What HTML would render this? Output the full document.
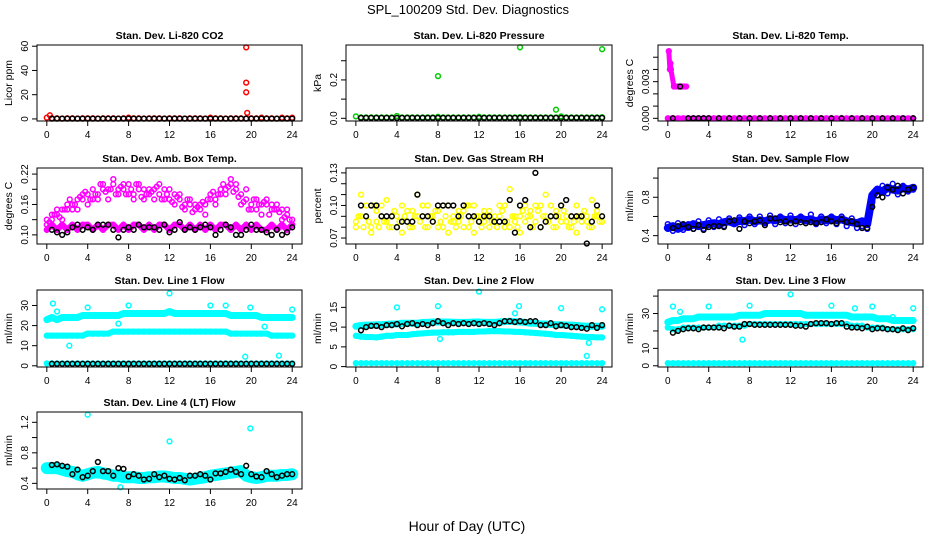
<!DOCTYPE html>
<html><head><meta charset="utf-8"><title>SPL_100209 Std. Dev. Diagnostics</title>
<style>
html,body{margin:0;padding:0;background:#fff;}
svg{display:block;font-family:"Liberation Sans",Arial,sans-serif;}
</style></head>
<body>
<svg id="chart" width="936" height="540" viewBox="0 0 936 540" xmlns="http://www.w3.org/2000/svg">
<rect x="0" y="0" width="936" height="540" fill="#fff"/>
<text x="468" y="14" text-anchor="middle" font-size="13">SPL_100209  Std. Dev. Diagnostics</text>
<text x="467" y="531" text-anchor="middle" font-size="14">Hour of Day (UTC)</text>
</svg>
<script>
// ---- shared categories ----
const hours = [0,0.5,1,1.5,2,2.5,3,3.5,4,4.5,5,5.5,6,6.5,7,7.5,8,8.5,9,9.5,10,10.5,11,11.5,12,12.5,13,13.5,14,14.5,15,15.5,16,16.5,17,17.5,18,18.5,19,19.5,20,20.5,21,21.5,22,22.5,23,23.5,24];
const hoursQ = [0.25,0.75,1.25,1.75,2.25,2.75,3.25,3.75,4.25,4.75,5.25,5.75,6.25,6.75,7.25,7.75,8.25,8.75,9.25,9.75,10.25,10.75,11.25,11.75,12.25,12.75,13.25,13.75,14.25,14.75,15.25,15.75,16.25,16.75,17.25,17.75,18.25,18.75,19.25,19.75,20.25,20.75,21.25,21.75,22.25,22.75,23.25,23.75];
const hoursB = [0.5,1,1.5,2,2.5,3,3.5,4,4.5,5,5.5,6,6.5,7,7.5,8,8.5,9,9.5,10,10.5,11,11.5,12,12.5,13,13.5,14,14.5,15,15.5,16,16.5,17,17.5,18,18.5,19,19.5,20,20.5,21,21.5,22,22.5,23,23.5,24];
const xTicks = [0,4,8,12,16,20,24];

// ---- CO2 ----
const co2Red = [1,0.5,0.5,0.4,0.5,0.5,0.4,0.5,0.5,0.5,0.4,0.5,0.5,0.5,0.4,0.5,1,0.5,0.5,0.4,0.5,0.5,0.5,0.4,0.5,0.5,0.5,0.4,0.5,0.5,0.5,0.4,1,0.5,0.5,0.4,0.5,0.5,0.5,0.4,0.5,0.5,1,0.5,0.5,0.4,1,0.5,1];
const co2OutX = [0.3,19.5,19.5,19.5,19.6];
const co2OutY = [3,59,30,22,5];
const co2Black = [0.3,0.3,0.3,0.3,0.3,0.3,0.3,0.3,0.3,0.3,0.3,0.3,0.3,0.3,0.3,0.3,0.3,0.3,0.3,0.3,0.3,0.3,0.3,0.3,0.3,0.3,0.3,0.3,0.3,0.3,0.3,0.3,0.3,0.3,0.3,0.3,0.3,0.3,0.3,0.3,0.3,0.3,0.3,0.3,0.3,0.3,0.3,0.3];
// ---- Pressure ----
const presGreen = [0.01,0.005,0.005,0.005,0.005,0.005,0.005,0.005,0.012,0.005,0.005,0.005,0.005,0.005,0.005,0.005,0.008,0.005,0.005,0.005,0.005,0.005,0.005,0.005,0.008,0.005,0.005,0.005,0.005,0.005,0.005,0.005,0.006,0.005,0.005,0.005,0.005,0.005,0.005,0.005,0.01,0.005,0.005,0.005,0.005,0.005,0.005,0.005,0.006];
const presOutX = [8,16,19.5,24];
const presOutY = [0.22,0.37,0.045,0.36];
const presBlack = [0.002,0.002,0.002,0.002,0.002,0.002,0.002,0.002,0.002,0.002,0.002,0.002,0.002,0.002,0.002,0.002,0.002,0.002,0.002,0.002,0.002,0.002,0.002,0.002,0.002,0.002,0.002,0.002,0.002,0.002,0.002,0.002,0.002,0.002,0.002,0.002,0.002,0.002,0.002,0.002,0.002,0.002,0.002,0.002,0.002,0.002,0.002,0.002];
// ---- Li-820 Temp ----
const tempMagX = [0.1,0.2,0.25,0.3,0.6,0.8,1.0,1.2,1.4,1.6,1.8];
const tempMagY = [0.0055,0.004,0.0045,0.004,0.0026,0.0026,0.0026,0.0026,0.0026,0.0026,0.0026];
const tempBase = [0,0,0,0,0,0,0,0,0,0,0,0,0,0,0,0,0,0,0,0,0,0,0,0,0,0,0,0,0,0,0,0,0,0,0,0,0,0,0,0,0,0,0,0,0,0,0,0,0];
const tempBlackX = [0.5,1.2,2,2.5,3,3.5,4,5,6,7,8,9,10,11,12,13,14,15,16,17,18,19,20,21,22,23,24];
const tempBlackY = [0,0.0026,0,0,0,0,0,0,0,0,0,0,0,0,0,0,0,0,0,0,0,0,0,0,0,0,0];
// ---- Amb Box Temp ----
const ambUpper = [0.13,0.14,0.14,0.15,0.15,0.16,0.17,0.17,0.18,0.17,0.18,0.19,0.19,0.2,0.19,0.2,0.18,0.18,0.19,0.19,0.18,0.19,0.18,0.19,0.17,0.18,0.17,0.16,0.16,0.16,0.15,0.16,0.17,0.17,0.18,0.19,0.2,0.19,0.18,0.17,0.16,0.15,0.16,0.17,0.16,0.15,0.15,0.14,0.13];
const ambMid = [0.12,0.13,0.15,0.13,0.16,0.15,0.15,0.18,0.16,0.19,0.17,0.2,0.17,0.21,0.18,0.19,0.2,0.17,0.2,0.17,0.19,0.17,0.2,0.17,0.19,0.16,0.18,0.15,0.17,0.15,0.16,0.14,0.18,0.16,0.19,0.18,0.21,0.2,0.16,0.19,0.15,0.17,0.14,0.16,0.15,0.16,0.13,0.15,0.12];
const ambQ = [0.125,0.14,0.135,0.15,0.17,0.16,0.175,0.185,0.17,0.18,0.2,0.185,0.19,0.18,0.195,0.18,0.19,0.2,0.175,0.18,0.185,0.195,0.17,0.18,0.165,0.175,0.155,0.17,0.145,0.155,0.165,0.17,0.185,0.18,0.2,0.195,0.185,0.175,0.165,0.15,0.17,0.16,0.165,0.14,0.15,0.145,0.135,0.13];
const ambLower = [0.11,0.12,0.11,0.12,0.11,0.12,0.11,0.12,0.12,0.11,0.12,0.11,0.12,0.12,0.11,0.12,0.11,0.12,0.12,0.11,0.12,0.11,0.12,0.12,0.11,0.12,0.12,0.11,0.12,0.11,0.12,0.11,0.12,0.11,0.12,0.12,0.11,0.12,0.11,0.12,0.11,0.12,0.11,0.11,0.12,0.11,0.12,0.11,0.12];
const ambBlack = [0.11,0.105,0.1,0.105,0.115,0.12,0.11,0.115,0.11,0.12,0.12,0.12,0.11,0.095,0.11,0.115,0.11,0.12,0.115,0.115,0.115,0.11,0.12,0.105,0.11,0.125,0.11,0.115,0.11,0.115,0.12,0.115,0.1,0.11,0.12,0.115,0.1,0.1,0.11,0.12,0.11,0.11,0.105,0.1,0.11,0.1,0.105,0.115];
// ---- Gas Stream RH ----
const rhYellowA = [0.085,0.11,0.09,0.08,0.095,0.1,0.085,0.09,0.08,0.1,0.085,0.095,0.11,0.09,0.1,0.085,0.095,0.08,0.1,0.09,0.085,0.095,0.08,0.1,0.09,0.085,0.095,0.09,0.1,0.08,0.115,0.085,0.09,0.1,0.095,0.085,0.1,0.11,0.09,0.095,0.1,0.085,0.09,0.1,0.085,0.09,0.105,0.09,0.085];
const rhYellowB = [0.08,0.09,0.1,0.075,0.085,0.09,0.105,0.08,0.09,0.075,0.095,0.08,0.09,0.1,0.08,0.09,0.08,0.1,0.075,0.085,0.095,0.08,0.1,0.075,0.085,0.095,0.08,0.085,0.09,0.1,0.08,0.09,0.075,0.085,0.09,0.1,0.08,0.09,0.1,0.08,0.085,0.09,0.08,0.075,0.09,0.085,0.08,0.095,0.09];
const rhYellowC = [0.09,0.08,0.085,0.1,0.08,0.085,0.08,0.095,0.085,0.09,0.08,0.09,0.085,0.08,0.09,0.095,0.085,0.09,0.085,0.08,0.09,0.1,0.085,0.09,0.08,0.09,0.085,0.08,0.095,0.085,0.09,0.08,0.095,0.09,0.08,0.095,0.09,0.085,0.08,0.09,0.095,0.08,0.085,0.09,0.095,0.08,0.09,0.085];
const rhBlack = [0.1,0.09,0.1,0.1,0.09,0.09,0.09,0.08,0.085,0.085,0.085,0.11,0.09,0.09,0.085,0.1,0.1,0.1,0.1,0.09,0.1,0.09,0.09,0.085,0.09,0.09,0.085,0.085,0.085,0.105,0.075,0.1,0.105,0.08,0.13,0.08,0.085,0.09,0.09,0.1,0.105,0.09,0.09,0.09,0.065,0.085,0.1,0.09];
// ---- Sample Flow ----
const sfBlueA = [0.48,0.5,0.47,0.5,0.49,0.52,0.5,0.51,0.52,0.53,0.52,0.54,0.55,0.53,0.56,0.55,0.57,0.55,0.56,0.55,0.57,0.56,0.58,0.56,0.57,0.56,0.58,0.56,0.57,0.55,0.57,0.56,0.58,0.56,0.57,0.55,0.54,0.53,0.55,0.52,0.82,0.88,0.86,0.9,0.88,0.87,0.9,0.88,0.9];
const sfBlueB = [0.52,0.45,0.53,0.46,0.52,0.47,0.55,0.47,0.56,0.49,0.57,0.5,0.58,0.52,0.59,0.51,0.6,0.52,0.6,0.53,0.61,0.52,0.6,0.53,0.61,0.52,0.6,0.53,0.62,0.52,0.6,0.53,0.6,0.52,0.6,0.5,0.58,0.48,0.5,0.47,0.75,0.82,0.92,0.84,0.94,0.83,0.92,0.86,0.88];
const sfBlack = [0.48,0.5,0.52,0.49,0.47,0.51,0.46,0.49,0.5,0.5,0.49,0.55,0.56,0.47,0.55,0.53,0.55,0.56,0.51,0.58,0.58,0.54,0.55,0.53,0.55,0.54,0.53,0.54,0.53,0.54,0.57,0.55,0.53,0.57,0.54,0.55,0.52,0.48,0.48,0.7,0.82,0.8,0.9,0.88,0.92,0.84,0.88,0.9];
// ---- Line 1 Flow ----
const l1Upper = [23,24,23,24,24,24,24,25,25,25,25,25,25,25,25,26,26,26,26,26,26,26,26,26,27,26,26,26,26,26,26,26,26,26,26,26,25,25,25,25,25,25,24,24,24,24,24,24,24];
const l1Mid = [15,15,15,15,15,15,15,15,16,16,16,16,16,17,17,17,17,17,17,17,17,17,17,17,17,17,17,17,17,17,17,17,17,17,17,17,16,16,16,16,16,16,16,16,15,15,15,15,15];
const l1Low = [1.2,1.2,1.2,1.2,1.2,1.2,1.2,1.2,1.2,1.2,1.2,1.2,1.2,1.2,1.2,1.2,1.2,1.2,1.2,1.2,1.2,1.2,1.2,1.2,1.2,1.2,1.2,1.2,1.2,1.2,1.2,1.2,1.2,1.2,1.2,1.2,1.2,1.2,1.2,1.2,1.2,1.2,1.2,1.2,1.2,1.2,1.2,1.2,1.2];
const l1OutX = [0.6,1,2.2,4,7,8,12,16,17.5,19.4,19.9,21.3,22.7,24];
const l1OutY = [31,27,10,29,21,30,36,30,30,4.5,29,19.5,5,28];
const l1Black = [1,1,1,1,1,1,1,1,1,1,1,1,1,1,1,1,1,1,1,1,1,1,1,1,1,1,1,1,1,1,1,1,1,1,1,1,1,1,1,1,1,1,1,1,1,1,1,1];
// ---- Line 2 Flow ----
const l2Upper = [10.2,10.4,10.5,10.5,10.6,10.6,10.7,10.8,10.8,11,11,11,11,11.2,11.2,11.3,11.3,11.3,11.3,11.2,11.2,11.2,11.2,11.3,11.3,11.2,11.2,11.2,11.3,11.4,11.5,11.4,11.3,11.2,11,11,10.8,10.8,10.7,10.6,10.6,10.5,10.5,10.4,10.3,10.2,10.2,10.2,10.2];
const l2Mid = [7.8,7.6,7.5,7.5,7.4,7.6,7.8,7.8,8,8,8,8.2,8.3,8.4,8.5,8.6,8.6,8.7,8.7,8.7,8.8,8.8,8.8,8.8,8.9,8.9,9,9,9,8.9,8.9,8.8,8.8,8.7,8.6,8.5,8.4,8.3,8.2,8,8,7.9,7.8,7.7,7.6,7.5,7.5,7.4,7.4];
const l2Low = [0.9,0.9,0.9,0.9,0.9,0.9,0.9,0.9,0.9,0.9,0.9,0.9,0.9,0.9,0.9,0.9,0.9,0.9,0.9,0.9,0.9,0.9,0.9,0.9,0.9,0.9,0.9,0.9,0.9,0.9,0.9,0.9,0.9,0.9,0.9,0.9,0.9,0.9,0.9,0.9,0.9,0.9,0.9,0.9,0.9,0.9,0.9,0.9,0.9];
const l2OutX = [4,8,8.2,12,15.5,15.9,20,22.5,22.7,24];
const l2OutY = [15,15.3,7,19,13.5,15.3,14.8,2.7,6,14.5];
const l2Black = [9.2,10,10.3,10.3,10,10.5,10.5,10.8,10.2,10.8,11,10.5,10.8,10.5,11,11.5,11,10.5,11,10.8,11,10.8,11,10.8,11,10.8,10.5,11,11.5,11.5,11.3,11.5,11.3,11.5,11.5,10.5,10.5,11,10.2,10.5,10.3,10,10,9.8,9.6,10.5,9.8,10.5];
// ---- Line 3 Flow ----
const l3Upper = [25,26,26,27,27,27,28,28,28,28,28,28,28,28,29,29,29,29,29,30,30,30,30,30,30,30,30,29,29,29,29,29,29,29,29,29,28,28,28,28,28,27,27,27,26,26,26,26,26];
const l3Mid = [22,21,21,22,22,22,22,22,22,22,23,23,23,23,23,23,24,24,24,24,24,24,24,24,24,24,24,24,24,24,24,24,24,24,24,24,23,23,23,22,22,22,22,21,21,21,21,21,21];
const l3Low = [1.5,1.5,1.5,1.5,1.5,1.5,1.5,1.5,1.5,1.5,1.5,1.5,1.5,1.5,1.5,1.5,1.5,1.5,1.5,1.5,1.5,1.5,1.5,1.5,1.5,1.5,1.5,1.5,1.5,1.5,1.5,1.5,1.5,1.5,1.5,1.5,1.5,1.5,1.5,1.5,1.5,1.5,1.5,1.5,1.5,1.5,1.5,1.5,1.5];
const l3OutX = [0.5,1.2,4,7.3,8,12,16,18.3,20,22,24];
const l3OutY = [34,31,34,15,34.5,41,34.5,33,34,28,33];
const l3Black = [19,20,21,21.5,21.5,21,22,22,22,22,21.5,23,22.5,22.5,24,24,23.5,23.5,23.5,23.5,23.5,23.5,23.5,23.5,23,23,22.5,24,24.5,24.5,24.5,24,24.5,24.5,22.5,22,22,21.5,22.5,21,21.5,21.5,21,21,20.5,21.5,20.5,21.5];
// ---- Line 4 Flow ----
const l4Cyan = [0.6,0.6,0.6,0.58,0.56,0.55,0.52,0.5,0.52,0.54,0.55,0.53,0.52,0.5,0.5,0.48,0.48,0.48,0.47,0.47,0.48,0.48,0.49,0.49,0.48,0.47,0.47,0.46,0.45,0.46,0.47,0.48,0.5,0.51,0.52,0.53,0.54,0.55,0.56,0.5,0.48,0.47,0.48,0.5,0.5,0.5,0.51,0.51,0.52];
const l4OutX = [4,7.2,12,19.9];
const l4OutY = [1.3,0.35,0.95,1.12];
const l4Black = [0.64,0.65,0.63,0.62,0.52,0.58,0.48,0.5,0.56,0.68,0.56,0.56,0.5,0.6,0.59,0.49,0.52,0.5,0.45,0.46,0.52,0.48,0.5,0.46,0.45,0.47,0.44,0.5,0.5,0.52,0.5,0.45,0.53,0.53,0.55,0.58,0.55,0.52,0.63,0.52,0.49,0.48,0.56,0.52,0.48,0.5,0.52,0.52];

// ---- panel layout (axes) ----
const colX = [[37,302],[346,612],[658,923]];
const rowY = [[45,121],[168,244],[290,367],[412,489]];
const XMIN = -0.96, XMAX = 24.96;
const NS = "http://www.w3.org/2000/svg";
const svg = document.getElementById('chart');

function mk(tag, attrs, parent){
  const e = document.createElementNS(NS, tag);
  for (const k in attrs) e.setAttribute(k, attrs[k]);
  (parent||svg).appendChild(e);
  return e;
}

const panels = [
 {key:'co2', title:'Stan. Dev. Li-820 CO2', ylab:'Licor ppm', col:0,row:0, ylim:[-1.7,61], ticks:[0,20,40,60], labels:['0','20','40','60'],
  series:[{x:hours,y:co2Red,c:'#ff0000',band:0},{x:co2OutX,y:co2OutY,c:'#ff0000'},{x:hoursB,y:co2Black,c:'#000'}]},
 {key:'pressure', title:'Stan. Dev. Li-820 Pressure', ylab:'kPa', col:1,row:0, ylim:[-0.014,0.382], ticks:[0,0.1,0.2,0.3], labels:['0.0','','0.2',''],
  series:[{x:hours,y:presGreen,c:'#00cc00'},{x:presOutX,y:presOutY,c:'#00cc00'},{x:hoursB,y:presBlack,c:'#000'}]},
 {key:'li-temp', title:'Stan. Dev. Li-820 Temp.', ylab:'degrees C', col:2,row:0, ylim:[-0.00022,0.006], ticks:[0,0.001,0.002,0.003,0.004,0.005], labels:['0.000','','','0.003','',''],
  series:[{x:hours,y:tempBase,c:'#ff00ff',band:5},{x:tempMagX,y:tempMagY,c:'#ff00ff',band:5},{x:tempBlackX,y:tempBlackY,c:'#000'}]},
 {key:'amb-box-temp', title:'Stan. Dev. Amb. Box Temp.', ylab:'degrees C', col:0,row:1, ylim:[0.082,0.232], ticks:[0.10,0.13,0.16,0.19,0.22], labels:['0.10','','0.16','','0.22'],
  series:[{x:hours,y:ambUpper,c:'#ff00ff'},{x:hours,y:ambMid,c:'#ff00ff'},{x:hoursQ,y:ambQ,c:'#ff00ff'},{x:hours,y:ambLower,c:'#ff00ff',band:6},{x:hoursB,y:ambBlack,c:'#000'}]},
 {key:'gas-stream-rh', title:'Stan. Dev. Gas Stream RH', ylab:'percent', col:1,row:1, ylim:[0.0645,0.1345], ticks:[0.07,0.08,0.09,0.10,0.11,0.12,0.13], labels:['0.07','','','0.10','','','0.13'],
  series:[{x:hours,y:rhYellowA,c:'#ffff00'},{x:hours,y:rhYellowB,c:'#ffff00'},{x:hoursQ,y:rhYellowC,c:'#ffff00'},{x:hoursB,y:rhBlack,c:'#000'}]},
 {key:'sample-flow', title:'Stan. Dev. Sample Flow', ylab:'ml/min', col:2,row:1, ylim:[0.313,1.105], ticks:[0.4,0.6,0.8,1.0], labels:['0.4','','0.8',''],
  series:[{x:hours,y:sfBlueA,c:'#0000ff',band:8},{x:hours,y:sfBlueB,c:'#0000ff'},{x:hoursB,y:sfBlack,c:'#000'}]},
 {key:'line1-flow', title:'Stan. Dev. Line 1 Flow', ylab:'ml/min', col:0,row:2, ylim:[-0.6,37.7], ticks:[0,10,20,30], labels:['0','10','20','30'],
  series:[{x:hours,y:l1Upper,c:'#00ffff',band:7},{x:hours,y:l1Mid,c:'#00ffff',band:6},{x:hours,y:l1Low,c:'#00ffff',band:4},{x:l1OutX,y:l1OutY,c:'#00ffff'},{x:hoursB,y:l1Black,c:'#000'}]},
 {key:'line2-flow', title:'Stan. Dev. Line 2 Flow', ylab:'ml/min', col:1,row:2, ylim:[-0.1,19.4], ticks:[0,5,10,15], labels:['0','5','10','15'],
  series:[{x:hours,y:l2Upper,c:'#00ffff',band:7},{x:hours,y:l2Mid,c:'#00ffff',band:6},{x:hours,y:l2Low,c:'#00ffff',band:4},{x:l2OutX,y:l2OutY,c:'#00ffff'},{x:hoursB,y:l2Black,c:'#000'}]},
 {key:'line3-flow', title:'Stan. Dev. Line 3 Flow', ylab:'ml/min', col:2,row:2, ylim:[-0.7,43.5], ticks:[0,10,20,30,40], labels:['0','10','','30',''],
  series:[{x:hours,y:l3Upper,c:'#00ffff',band:7},{x:hours,y:l3Mid,c:'#00ffff',band:5},{x:hours,y:l3Low,c:'#00ffff',band:5},{x:l3OutX,y:l3OutY,c:'#00ffff'},{x:hoursB,y:l3Black,c:'#000'}]},
 {key:'line4-flow', title:'Stan. Dev. Line 4 (LT) Flow', ylab:'ml/min', col:0,row:3, ylim:[0.326,1.335], ticks:[0.4,0.6,0.8,1.0,1.2], labels:['0.4','','0.8','','1.2'],
  series:[{x:hours,y:l4Cyan,c:'#00ffff',band:12},{x:l4OutX,y:l4OutY,c:'#00ffff'},{x:hoursB,y:l4Black,c:'#000'}]}
];

panels.forEach(p => {
  const [x0,x1] = colX[p.col], [y0,y1] = rowY[p.row];
  const sx = v => x0 + (v - XMIN) / (XMAX - XMIN) * (x1 - x0);
  const sy = v => y1 - (v - p.ylim[0]) / (p.ylim[1] - p.ylim[0]) * (y1 - y0);
  const g = mk('g', {});
  
  

  const t = mk('text', {x:(x0+x1)/2, y:y0-6, 'text-anchor':'middle', 'font-size':'10.5', 'font-weight':'bold'}, g);
  t.textContent = p.title;
  
  

  const yl = mk('text', {x:0, y:0, 'text-anchor':'middle', 'font-size':'10.5', transform:`translate(${x0-25},${(y0+y1)/2}) rotate(-90)`}, g);
  yl.textContent = p.ylab;
  
  

  p.series.forEach((s, si) => {
    const sg = mk('g', {}, g);
    
    
    if (s.band) {
      let d = '';
      s.x.forEach((xv, i) => { d += (i ? 'L' : 'M') + sx(xv).toFixed(1) + ',' + sy(s.y[i]).toFixed(1); });
      const pl = mk('path', {d:d, fill:'none', stroke:s.c, 'stroke-width':s.band, 'stroke-linejoin':'round', 'stroke-linecap':'round'}, sg);
      
      
    }
    s.x.forEach((xv, i) => {
      const c = mk('circle', {cx:sx(xv).toFixed(1), cy:sy(s.y[i]).toFixed(1), r:2.4, fill:'none', stroke:s.c, 'stroke-width':1.5}, sg);
      
      
    });
  });

  const b = mk('rect', {x:x0, y:y0, width:x1-x0, height:y1-y0, fill:'none', stroke:'#000', 'stroke-width':1}, g);
  
  

  xTicks.forEach(v => {
    const X = sx(v);
    const tk = mk('line', {x1:X, x2:X, y1:y1, y2:y1+5, stroke:'#000'}, g);
    
    
    const tl = mk('text', {x:X, y:y1+17, 'text-anchor':'middle', 'font-size':'10'}, g);
    tl.textContent = v;
    
    
  });
  p.ticks.forEach((v, i) => {
    const Y = sy(v);
    const tk = mk('line', {x1:x0-5, x2:x0, y1:Y, y2:Y, stroke:'#000'}, g);
    
    
    if (p.labels[i]) {
      const tl = mk('text', {x:0, y:0, 'text-anchor':'middle', 'font-size':'10', transform:`translate(${x0-9},${Y}) rotate(-90)`}, g);
      tl.textContent = p.labels[i];
      
      
    }
  });
});
</script>
</body></html>
